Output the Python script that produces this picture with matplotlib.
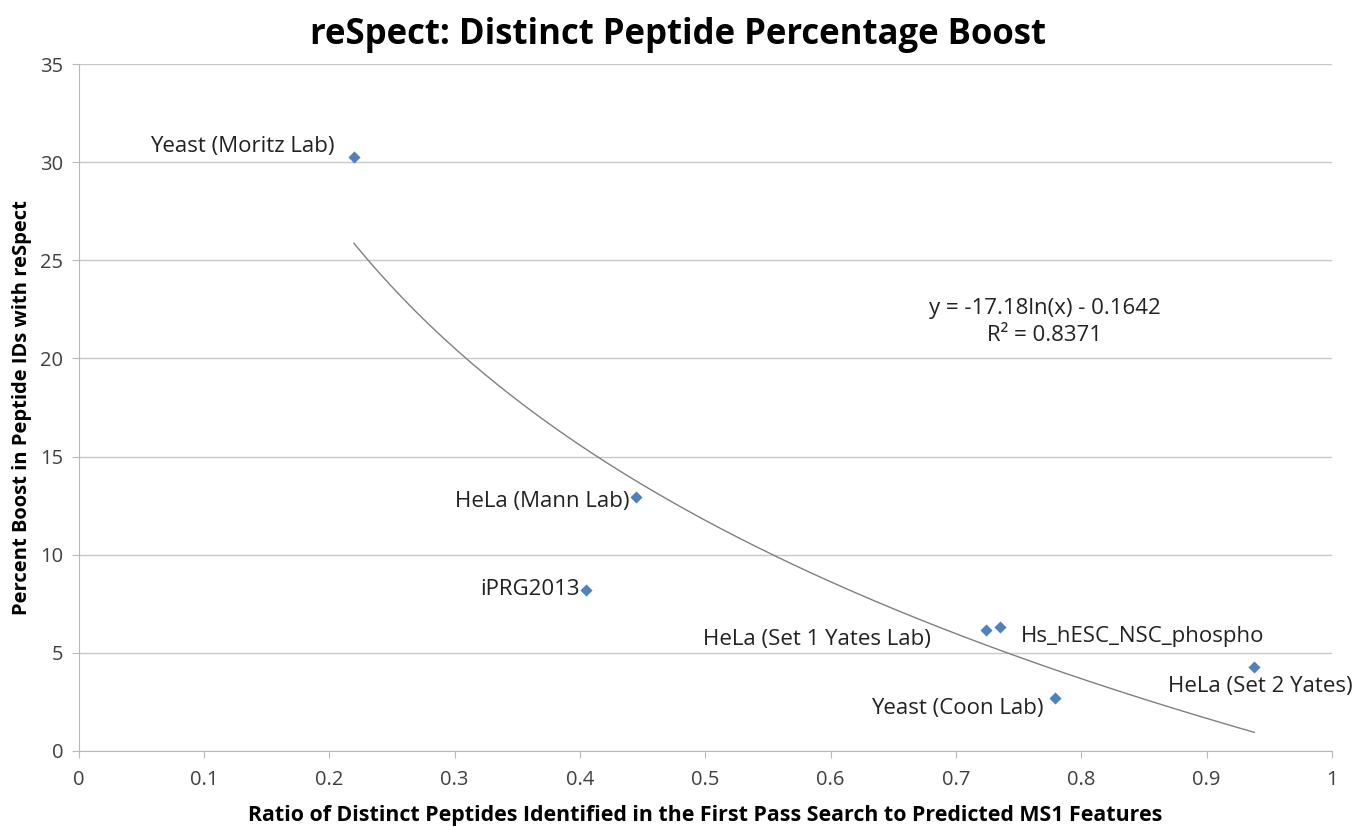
import numpy as np
import matplotlib.pyplot as plt

# data
labels = ["Yeast (Moritz Lab)", "HeLa (Mann Lab)", "iPRG2013", "HeLa (Set 1 Yates Lab)",
          "Hs_hESC_NSC_phospho", "Yeast (Coon Lab)", "HeLa (Set 2 Yates)"]
ratio = [0.2197, 0.4448, 0.405, 0.724, 0.735, 0.7786, 0.938]
boost = [30.3, 12.94, 8.2, 6.16, 6.3, 2.67, 4.25]

# log trendline coefficients shown in the chart
coef_a = -17.18
coef_b = -0.1642

plt.rcParams['font.family'] = ['Open Sans', 'DejaVu Sans']

fig = plt.figure(figsize=(13.56, 8.27), dpi=100)
ax = fig.add_axes([0.058, 0.0923, 0.9243, 0.8299])

ax.scatter(ratio, boost, marker="D", s=38, color="#4f81bd", zorder=3, linewidths=0)

xs = np.linspace(min(ratio), max(ratio), 200)
ax.plot(xs, coef_a * np.log(xs) + coef_b, color="#808080", lw=1, zorder=2)

# label offsets (points) and alignment per data point
offsets = [(-14, 7, "right"), (-5, -3.5, "right"), (-5, 0, "right"), (-40, -7, "right"),
           (15, -6.5, "left"), (-8, -7, "right"), (-62, -14, "left")]
for lab, x, y, (dx, dy, ha) in zip(labels, ratio, boost, offsets):
    ax.annotate(lab, (x, y), xytext=(dx, dy), textcoords="offset points",
                ha=ha, va="center", fontsize=16, color="#222222")

ax.text(0.771, 21.87, "y = -17.18ln(x) - 0.1642\nR² = 0.8371", ha="center", va="center",
        fontsize=16, color="#222222", linespacing=1.35)

ax.set_xlim(0, 1)
ax.set_ylim(0, 35)
ax.set_xticks(np.arange(0, 1.01, 0.1))
ax.set_xticklabels(["0", "0.1", "0.2", "0.3", "0.4", "0.5", "0.6", "0.7", "0.8", "0.9", "1"])
ax.set_yticks(range(0, 36, 5))
ax.grid(axis="y", color="#c8c8c8", lw=1)
ax.set_axisbelow(True)
for s in ["top", "right"]:
    ax.spines[s].set_visible(False)
for s in ["left", "bottom"]:
    ax.spines[s].set_color("#b8b8b8")
ax.tick_params(colors="#b8b8b8", labelcolor="#404040", labelsize=14.5, length=5)
ax.tick_params(axis="x", pad=9)
ax.tick_params(axis="y", pad=6)

ax.set_xlabel("Ratio of Distinct Peptides Identified in the First Pass Search to Predicted MS1 Features",
              fontsize=15.4, fontweight="bold")
ax.xaxis.set_label_coords(0.5, -0.079)
ax.set_ylabel("Percent Boost in Peptide IDs with reSpect", fontsize=14.5, fontweight="bold", labelpad=6)
fig.suptitle("reSpect: Distinct Peptide Percentage Boost", fontsize=25, fontweight="bold", y=0.98)

plt.savefig("out.png")
